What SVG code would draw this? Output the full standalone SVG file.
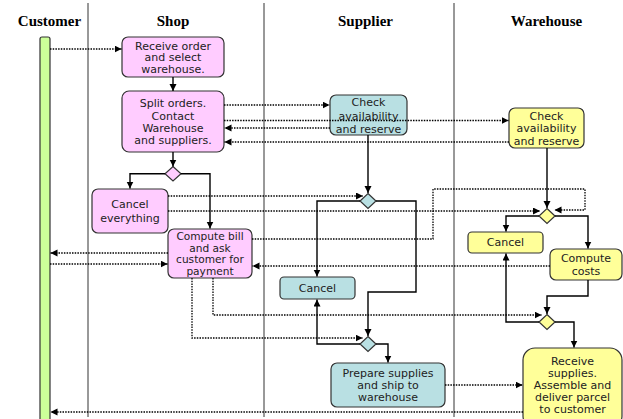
<svg xmlns="http://www.w3.org/2000/svg" width="623" height="419" viewBox="0 0 623 419">
<style>
.lane{stroke:#333;stroke-width:1;fill:none}
.hd{font-family:"Liberation Serif","Times New Roman",serif;font-weight:bold;font-size:15px;fill:#000;text-anchor:middle}
.t{font-family:"DejaVu Sans",Verdana,sans-serif;font-size:11px;fill:#222;text-anchor:middle}
.tc{font-size:10.6px}
.box{stroke:#333;stroke-width:1.2}
.pink{fill:#ffccff}
.teal{fill:#b9e0e3}
.yel{fill:#ffff99}
.s{fill:none;stroke:#000;stroke-width:1.4;marker-end:url(#ah)}
.d{fill:none;stroke:#000;stroke-width:1.3;stroke-dasharray:1.5 1.2;marker-end:url(#ah)}
</style>
<defs>
<marker id="ah" markerUnits="userSpaceOnUse" markerWidth="8" markerHeight="8" refX="7" refY="3.5" orient="auto">
<path d="M0,0 L7,3.5 L0,7 z" fill="#000"/>
</marker>
</defs>
<rect width="623" height="419" fill="#fff"/>
<g id="lanes">
<line class="lane" x1="88" y1="3" x2="88" y2="417"/>
<line class="lane" x1="264" y1="3" x2="264" y2="417"/>
<line class="lane" x1="454" y1="3" x2="454" y2="417"/>
<text class="hd" x="49.5" y="26">Customer</text>
<text class="hd" x="173" y="26">Shop</text>
<text class="hd" x="365.5" y="26">Supplier</text>
<text class="hd" x="546.5" y="26">Warehouse</text>
</g>
<g id="customer">
<rect class="box" x="40" y="37" width="10" height="400" rx="2" fill="#ccff99"/>
</g>
<g id="receive-order">
<rect class="box pink" x="122" y="37" width="102" height="40" rx="6"/>
<text class="t" x="173" y="49.5">Receive order</text>
<text class="t" x="173" y="61">and select</text>
<text class="t" x="173" y="72.5">warehouse.</text>
</g>
<g id="split-orders">
<rect class="box pink" x="122" y="91" width="102" height="61" rx="7"/>
<text class="t" x="173" y="107">Split orders.</text>
<text class="t" x="173" y="119.5">Contact</text>
<text class="t" x="173" y="132">Warehouse</text>
<text class="t" x="173" y="144">and suppliers.</text>
</g>
<g id="shop-decision">
<path class="box pink" d="M173,166.5 L181,173.7 L173,181 L165,173.7 z"/>
</g>
<g id="cancel-everything">
<rect class="box pink" x="92" y="189" width="76" height="44" rx="6"/>
<text class="t" x="130" y="208">Cancel</text>
<text class="t" x="130" y="222">everything</text>
</g>
<g id="compute-bill">
<rect class="box pink" x="168" y="229" width="84" height="49" rx="6"/>
<text class="t tc" x="210" y="240">Compute bill</text>
<text class="t tc" x="210" y="251.5">and ask</text>
<text class="t tc" x="210" y="263">customer for</text>
<text class="t tc" x="210" y="274.5">payment</text>
</g>
<g id="supplier-check">
<rect class="box teal" x="330" y="95" width="77" height="40" rx="6"/>
<text class="t" x="368.5" y="106.3">Check</text>
<text class="t" x="368.5" y="119.5">availability</text>
<text class="t" x="368.5" y="133">and reserve</text>
</g>
<g id="supplier-decision">
<path class="box teal" d="M368,193.5 L376,201 L368,208.5 L360,201 z"/>
</g>
<g id="supplier-cancel">
<rect class="box teal" x="280" y="277" width="75" height="22" rx="4"/>
<text class="t" x="317.5" y="292">Cancel</text>
</g>
<g id="supplier-merge">
<path class="box teal" d="M368,336.5 L376,344 L368,351.5 L360,344 z"/>
</g>
<g id="prepare-supplies">
<rect class="box teal" x="331" y="363" width="114" height="44" rx="6"/>
<text class="t" x="388" y="377">Prepare supplies</text>
<text class="t" x="388" y="389">and ship to</text>
<text class="t" x="388" y="401">warehouse</text>
</g>
<g id="warehouse-check">
<rect class="box yel" x="509" y="108" width="75" height="40" rx="6"/>
<text class="t" x="546.5" y="119.7">Check</text>
<text class="t" x="546.5" y="132.3">availability</text>
<text class="t" x="546.5" y="144.7">and reserve</text>
</g>
<g id="warehouse-decision">
<path class="box yel" d="M547,208.5 L555,216 L547,223.5 L539,216 z"/>
</g>
<g id="warehouse-cancel">
<rect class="box yel" x="468" y="232" width="75" height="21" rx="4"/>
<text class="t" x="505.5" y="246.3">Cancel</text>
</g>
<g id="compute-costs">
<rect class="box yel" x="550" y="249" width="72" height="31" rx="6"/>
<text class="t" x="586" y="262">Compute</text>
<text class="t" x="586" y="275">costs</text>
</g>
<g id="warehouse-merge">
<path class="box yel" d="M547,314.5 L555,322 L547,329.5 L539,322 z"/>
</g>
<g id="receive-supplies">
<rect class="box yel" x="523" y="348" width="99" height="80" rx="12"/>
<text class="t" x="572.5" y="365.3">Receive</text>
<text class="t" x="572.5" y="377.3">supplies.</text>
<text class="t" x="572.5" y="389">Assemble and</text>
<text class="t" x="572.5" y="401.3">deliver parcel</text>
<text class="t" x="572.5" y="413">to customer</text>
</g>
<g id="connectors">
<path class="s" d="M173,77 V91"/>
<path class="s" d="M173,152 V166.5"/>
<path class="s" d="M165,173.7 H130 V188.5"/>
<path class="s" d="M181,173.7 H210 V228.5"/>
<path class="s" d="M368,135 V193"/>
<path class="s" d="M360,201 H317 V276.5"/>
<path class="s" d="M376,201 H416 V292 H368 V336"/>
<path class="s" d="M360,344 H317 V299.5"/>
<path class="s" d="M376,344 H388 V362.5"/>
<path class="s" d="M547,148 V208"/>
<path class="s" d="M539,216 H506 V231.5"/>
<path class="s" d="M555,216 H588 V248.5"/>
<path class="s" d="M588,280 V296 H547 V314"/>
<path class="s" d="M539,322 H506 V253.5"/>
<path class="s" d="M555,322 H574 V347.5"/>
<path class="d" d="M50,49 H121.5"/>
<path class="d" d="M224,105 H329.5"/>
<path class="d" d="M224,120.5 H508.5"/>
<path class="d" d="M330,128 H224.5"/>
<path class="d" d="M509,142 H224.5"/>
<path class="d" d="M168,196 H363"/>
<path class="d" d="M168,211 H540"/>
<path class="d" d="M252,239 H433 V189 H585 V210 H554.5"/>
<path class="d" d="M168,253 H50.5"/>
<path class="d" d="M50,264 H167.5"/>
<path class="d" d="M550,266 H252.5"/>
<path class="d" d="M213,278 V315 H541.5"/>
<path class="d" d="M192,278 V338 H362.5"/>
<path class="d" d="M445,385 H522.5"/>
<path class="d" d="M523,412 H50.5"/>
</g>
</svg>
